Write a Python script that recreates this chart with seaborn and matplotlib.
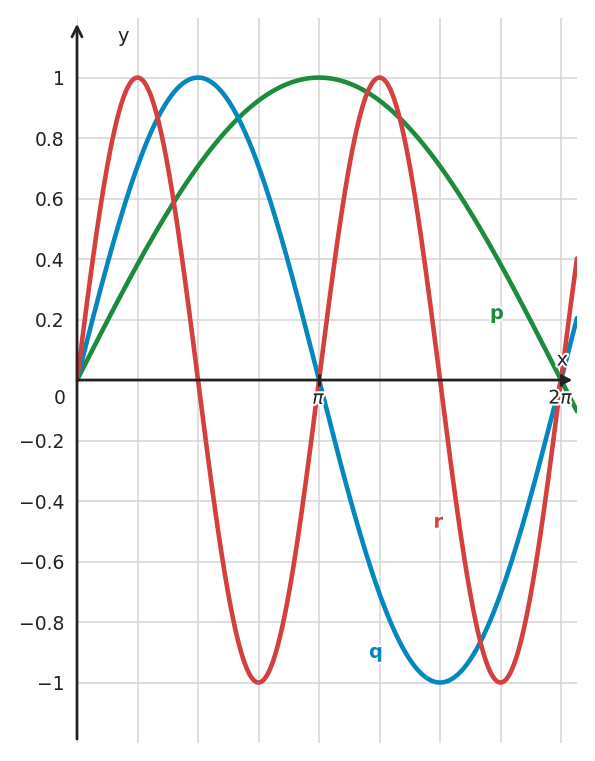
import numpy as np
import pandas as pd
import matplotlib
matplotlib.use("Agg")
import matplotlib.pyplot as plt
import matplotlib.patheffects as pe
import seaborn as sns

# curves: y = sin(freq * x)
names = ["p", "q", "r"]
freqs = [0.5, 1.0, 2.0]
colors = ["#1c8c3c", "#0387bf", "#d43f3f"]
label_pos = [(5.45, 0.22), (3.88, -0.90), (4.69, -0.47)]

x_max = 6.49
y_ticks = [-1, -0.8, -0.6, -0.4, -0.2, 0.2, 0.4, 0.6, 0.8, 1]
y_labels = ["\u22121", "\u22120.8", "\u22120.6", "\u22120.4", "\u22120.2",
            "0.2", "0.4", "0.6", "0.8", "1"]
x_ticks = [np.pi, 2 * np.pi]
x_labels = [r"$\pi$", r"$2\pi$"]

sns.set_theme(style="white")
plt.rcParams["font.family"] = ["DejaVu Sans"]
plt.rcParams["mathtext.fontset"] = "dejavusans"

xs = np.linspace(0, x_max, 800)
frames = []
for n, f in zip(names, freqs):
    frames.append(pd.DataFrame({"x": xs, "y": np.sin(f * xs), "curve": n}))
data = pd.concat(frames, ignore_index=True)

fig = plt.figure(figsize=(5.95, 7.61), dpi=100)
ax = fig.add_axes([77 / 595, 1 - 743 / 761, 500 / 595, 725 / 761])

ax.set_xlim(0, x_max)
ax.set_ylim(-1.2, 1.197)

# grid
ax.set_xticks(np.arange(0, 9) * np.pi / 4, minor=True)
ax.set_xticks(x_ticks)
ax.set_xticklabels([])
ax.set_yticks(y_ticks)
ax.set_yticklabels(y_labels)
ax.grid(True, which="both", color="#d4d4d4", linewidth=1.1, zorder=0)
ax.set_axisbelow(True)

sns.lineplot(data=data, x="x", y="y", hue="curve", palette=colors,
             linewidth=3.3, legend=False, ax=ax, zorder=3)
ax.set_xlabel("")
ax.set_ylabel("")

for s in ["top", "right", "left", "bottom"]:
    ax.spines[s].set_visible(False)

ax.tick_params(axis="y", which="major", direction="in", length=4, width=2,
               color="#222222", labelsize=13.5, labelcolor="#222222", pad=9)
ax.tick_params(axis="x", which="major", length=0)
ax.tick_params(axis="x", which="minor", length=0)

# axes arrows
ax.annotate("", xy=(6.43, 0), xytext=(0, 0),
            arrowprops=dict(arrowstyle="-|>", color="#222222", lw=2,
                            mutation_scale=14, shrinkA=0, shrinkB=0), zorder=4)
ax.annotate("", xy=(0, 1.178), xytext=(0, -1.187),
            arrowprops=dict(arrowstyle="->", color="#222222", lw=2,
                            mutation_scale=18, shrinkA=0, shrinkB=0),
            annotation_clip=False, zorder=4)
# small tick marks on the x axis
ax.plot(x_ticks, [0] * len(x_ticks), linestyle="none", marker="|",
        markersize=9, markeredgewidth=2.2, color="#222222", zorder=4)

halo = [pe.withStroke(linewidth=3, foreground="white")]
for xt, xl in zip(x_ticks, x_labels):
    ax.text(xt, -0.06, xl, fontsize=13.5, color="#222222", ha="center",
            va="center", path_effects=halo, zorder=5)
ax.text(0.6, 1.135, "y", fontsize=14, color="#222222", ha="center", va="center")
ax.text(6.30, 0.066, "x", fontsize=14, color="#222222", ha="center",
        va="center", path_effects=halo, zorder=5)
ax.text(-0.22, -0.06, "0", fontsize=13.5, color="#222222", ha="center",
        va="center", clip_on=False)

for n, c, (lx, ly) in zip(names, colors, label_pos):
    ax.text(lx, ly, n, fontsize=14, fontweight="bold", color=c,
            ha="center", va="center", path_effects=halo, zorder=5)

fig.savefig("out.png", dpi=100)
